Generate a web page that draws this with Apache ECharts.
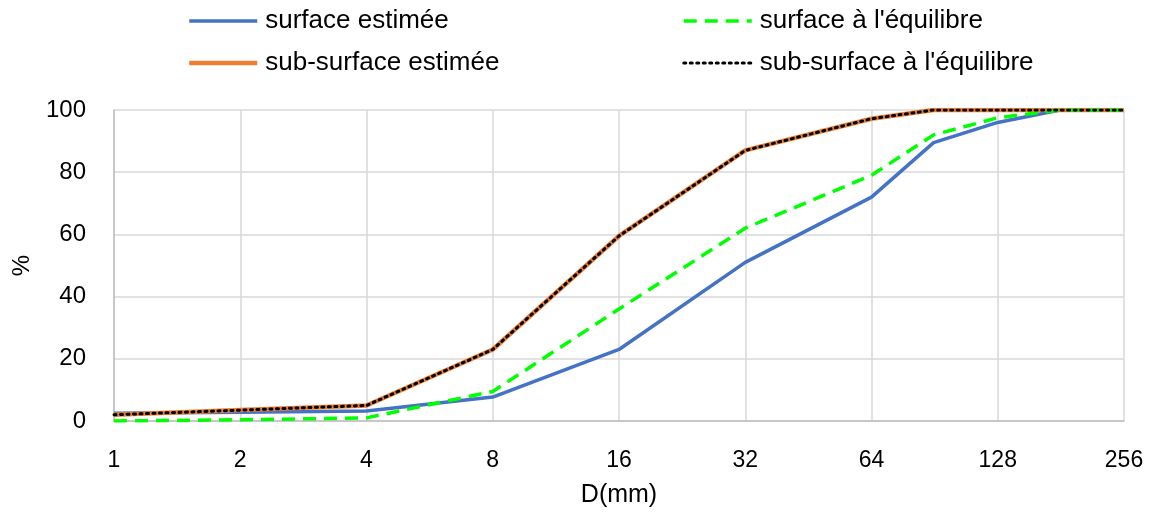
<!DOCTYPE html>
<html><head><meta charset="utf-8">
<script src="https://cdn.jsdelivr.net/npm/echarts@6/dist/echarts.min.js"></script>
<style>html,body{margin:0;padding:0;background:#fff}#c{width:1149px;height:513px}</style>
</head><body><div id="c"></div>
<script>
const diameters = [1, 2, 4, 8, 16, 32, 64, 90, 128, 180, 256];
const surfaceEstimee = [2.5, 2.8, 3.2, 7.7, 23, 51, 72, 89.5, 96, 100, 100];
const subSurfaceEstimee = [2, 3.5, 5, 23, 59.5, 87, 97.2, 100, 100, 100, 100];
const surfaceEquilibre = [0, 0.4, 1, 9.5, 36, 62, 79, 92, 97.5, 100, 100];
const subSurfaceEquilibre = [2, 3.5, 5, 23, 59.5, 87, 97.2, 100, 100, 100, 100];
const xTicks = [1, 2, 4, 8, 16, 32, 64, 128, 256];
const names = ["surface estimée", "sub-surface estimée", "surface à l'équilibre", "sub-surface à l'équilibre"];

const pair = (arr) => diameters.map((d, i) => [d, arr[i]]);
const font = "'Liberation Sans', sans-serif";
const legendCommon = {
  top: 8, padding: 0, orient: 'vertical', itemGap: 16, itemWidth: 68, itemHeight: 26,
  textStyle: {fontSize: 26, lineHeight: 26, color: '#000', fontFamily: font, padding: [0, 0, 0, 3]},
  itemStyle: {opacity: 0, borderWidth: 0},
  lineStyle: {width: 'inherit'}
};

const chart = echarts.init(document.getElementById('c'), null, {renderer: 'canvas'});
chart.setOption({
  animation: false,
  textStyle: {fontFamily: font},
  legend: [
    Object.assign({left: 187, data: [names[0], names[1]]}, legendCommon),
    Object.assign({left: 682, data: [names[2], names[3]]}, legendCommon)
  ],
  grid: {left: 114, right: 25, top: 110, bottom: 90, containLabel: false},
  xAxis: {
    type: 'log', logBase: 2, min: 1, max: 256,
    name: 'D(mm)', nameLocation: 'middle', nameGap: 62,
    nameTextStyle: {fontSize: 25, color: '#000', fontFamily: font},
    axisLine: {show: true, lineStyle: {color: '#bfbfbf', width: 1.5}},
    axisTick: {show: false},
    axisLabel: {fontSize: 23, color: '#000', margin: 28, fontFamily: font,
      formatter: v => String(Math.round(v))},
    splitLine: {show: true, lineStyle: {color: '#d9d9d9', width: 1.5}}
  },
  yAxis: {
    type: 'value', min: 0, max: 100, interval: 20,
    name: '%', nameLocation: 'middle', nameGap: 80, nameRotate: 90,
    nameTextStyle: {fontSize: 24, color: '#000', fontFamily: font},
    axisLine: {show: true, lineStyle: {color: '#bfbfbf', width: 1.5}},
    axisTick: {show: false},
    axisLabel: {fontSize: 24, color: '#000', margin: 28, fontFamily: font},
    splitLine: {show: true, lineStyle: {color: '#d9d9d9', width: 1.5}}
  },
  series: [
    {name: names[0], type: 'line', data: pair(surfaceEstimee), symbol: 'none',
     lineStyle: {color: '#4472C4', width: 3.5}, itemStyle: {color: '#4472C4'}, z: 2},
    {name: names[1], type: 'line', data: pair(subSurfaceEstimee), symbol: 'none',
     lineStyle: {color: '#ED7D31', width: 4.5}, itemStyle: {color: '#ED7D31'}, z: 3},
    {name: names[2], type: 'line', data: pair(surfaceEquilibre), symbol: 'none',
     lineStyle: {color: '#00FF00', width: 3.5, type: [13, 8]}, itemStyle: {color: '#00FF00'}, z: 4},
    {name: names[3], type: 'line', data: pair(subSurfaceEquilibre), symbol: 'none',
     lineStyle: {color: '#000000', width: 3, type: [2, 4.5], cap: 'round'}, itemStyle: {color: '#000'}, z: 5}
  ]
});
</script></body></html>
